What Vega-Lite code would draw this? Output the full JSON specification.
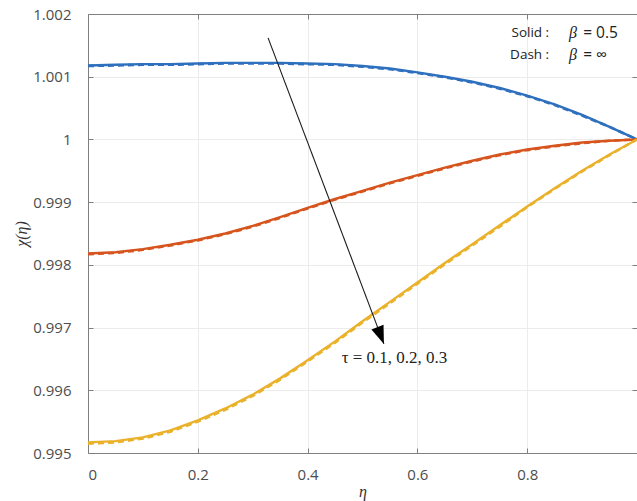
{
  "$schema": "https://vega.github.io/schema/vega-lite/v6.json",
  "width": 549,
  "height": 439,
  "autosize": "none",
  "padding": {"left": 88, "top": 14, "right": 0, "bottom": 48},
  "background": "white",
  "config": {
    "view": {"stroke": null}
  },
  "datasets": {
    "curves": [
      {"eta": 0, "chi": 1.00118, "tau": "0.1", "style": "solid"},
      {"eta": 0.05, "chi": 1.00119, "tau": "0.1", "style": "solid"},
      {"eta": 0.1, "chi": 1.0012, "tau": "0.1", "style": "solid"},
      {"eta": 0.15, "chi": 1.0012, "tau": "0.1", "style": "solid"},
      {"eta": 0.2, "chi": 1.00121, "tau": "0.1", "style": "solid"},
      {"eta": 0.25, "chi": 1.00122, "tau": "0.1", "style": "solid"},
      {"eta": 0.3, "chi": 1.00122, "tau": "0.1", "style": "solid"},
      {"eta": 0.35, "chi": 1.00122, "tau": "0.1", "style": "solid"},
      {"eta": 0.4, "chi": 1.00121, "tau": "0.1", "style": "solid"},
      {"eta": 0.45, "chi": 1.0012, "tau": "0.1", "style": "solid"},
      {"eta": 0.5, "chi": 1.00117, "tau": "0.1", "style": "solid"},
      {"eta": 0.55, "chi": 1.00113, "tau": "0.1", "style": "solid"},
      {"eta": 0.6, "chi": 1.00107, "tau": "0.1", "style": "solid"},
      {"eta": 0.65, "chi": 1.001, "tau": "0.1", "style": "solid"},
      {"eta": 0.7, "chi": 1.00092, "tau": "0.1", "style": "solid"},
      {"eta": 0.75, "chi": 1.00082, "tau": "0.1", "style": "solid"},
      {"eta": 0.8, "chi": 1.0007, "tau": "0.1", "style": "solid"},
      {"eta": 0.85, "chi": 1.00056, "tau": "0.1", "style": "solid"},
      {"eta": 0.9, "chi": 1.00039, "tau": "0.1", "style": "solid"},
      {"eta": 0.95, "chi": 1.0002, "tau": "0.1", "style": "solid"},
      {"eta": 1, "chi": 1.0, "tau": "0.1", "style": "solid"},

      {"eta": 0, "chi": 0.99818, "tau": "0.2", "style": "solid"},
      {"eta": 0.05, "chi": 0.9982, "tau": "0.2", "style": "solid"},
      {"eta": 0.1, "chi": 0.99825, "tau": "0.2", "style": "solid"},
      {"eta": 0.15, "chi": 0.99832, "tau": "0.2", "style": "solid"},
      {"eta": 0.2, "chi": 0.9984, "tau": "0.2", "style": "solid"},
      {"eta": 0.25, "chi": 0.9985, "tau": "0.2", "style": "solid"},
      {"eta": 0.3, "chi": 0.99862, "tau": "0.2", "style": "solid"},
      {"eta": 0.35, "chi": 0.99876, "tau": "0.2", "style": "solid"},
      {"eta": 0.4, "chi": 0.99891, "tau": "0.2", "style": "solid"},
      {"eta": 0.45, "chi": 0.99905, "tau": "0.2", "style": "solid"},
      {"eta": 0.5, "chi": 0.99918, "tau": "0.2", "style": "solid"},
      {"eta": 0.55, "chi": 0.99931, "tau": "0.2", "style": "solid"},
      {"eta": 0.6, "chi": 0.99943, "tau": "0.2", "style": "solid"},
      {"eta": 0.65, "chi": 0.99955, "tau": "0.2", "style": "solid"},
      {"eta": 0.7, "chi": 0.99966, "tau": "0.2", "style": "solid"},
      {"eta": 0.75, "chi": 0.99976, "tau": "0.2", "style": "solid"},
      {"eta": 0.8, "chi": 0.99984, "tau": "0.2", "style": "solid"},
      {"eta": 0.85, "chi": 0.9999, "tau": "0.2", "style": "solid"},
      {"eta": 0.9, "chi": 0.99995, "tau": "0.2", "style": "solid"},
      {"eta": 0.95, "chi": 0.99998, "tau": "0.2", "style": "solid"},
      {"eta": 1, "chi": 1.0, "tau": "0.2", "style": "solid"},

      {"eta": 0, "chi": 0.99517, "tau": "0.3", "style": "solid"},
      {"eta": 0.05, "chi": 0.99519, "tau": "0.3", "style": "solid"},
      {"eta": 0.1, "chi": 0.99525, "tau": "0.3", "style": "solid"},
      {"eta": 0.15, "chi": 0.99536, "tau": "0.3", "style": "solid"},
      {"eta": 0.2, "chi": 0.99552, "tau": "0.3", "style": "solid"},
      {"eta": 0.25, "chi": 0.99571, "tau": "0.3", "style": "solid"},
      {"eta": 0.3, "chi": 0.99593, "tau": "0.3", "style": "solid"},
      {"eta": 0.35, "chi": 0.99619, "tau": "0.3", "style": "solid"},
      {"eta": 0.4, "chi": 0.99648, "tau": "0.3", "style": "solid"},
      {"eta": 0.45, "chi": 0.99678, "tau": "0.3", "style": "solid"},
      {"eta": 0.5, "chi": 0.9971, "tau": "0.3", "style": "solid"},
      {"eta": 0.55, "chi": 0.99741, "tau": "0.3", "style": "solid"},
      {"eta": 0.6, "chi": 0.99772, "tau": "0.3", "style": "solid"},
      {"eta": 0.65, "chi": 0.99803, "tau": "0.3", "style": "solid"},
      {"eta": 0.7, "chi": 0.99833, "tau": "0.3", "style": "solid"},
      {"eta": 0.75, "chi": 0.99863, "tau": "0.3", "style": "solid"},
      {"eta": 0.8, "chi": 0.99893, "tau": "0.3", "style": "solid"},
      {"eta": 0.85, "chi": 0.99922, "tau": "0.3", "style": "solid"},
      {"eta": 0.9, "chi": 0.9995, "tau": "0.3", "style": "solid"},
      {"eta": 0.95, "chi": 0.99976, "tau": "0.3", "style": "solid"},
      {"eta": 1, "chi": 1.0, "tau": "0.3", "style": "solid"},

      {"eta": 0, "chi": 1.00117, "tau": "0.1", "style": "dash"},
      {"eta": 0.05, "chi": 1.00118, "tau": "0.1", "style": "dash"},
      {"eta": 0.1, "chi": 1.00119, "tau": "0.1", "style": "dash"},
      {"eta": 0.15, "chi": 1.00119, "tau": "0.1", "style": "dash"},
      {"eta": 0.2, "chi": 1.0012, "tau": "0.1", "style": "dash"},
      {"eta": 0.25, "chi": 1.00121, "tau": "0.1", "style": "dash"},
      {"eta": 0.3, "chi": 1.00121, "tau": "0.1", "style": "dash"},
      {"eta": 0.35, "chi": 1.00121, "tau": "0.1", "style": "dash"},
      {"eta": 0.4, "chi": 1.0012, "tau": "0.1", "style": "dash"},
      {"eta": 0.45, "chi": 1.00119, "tau": "0.1", "style": "dash"},
      {"eta": 0.5, "chi": 1.00116, "tau": "0.1", "style": "dash"},
      {"eta": 0.55, "chi": 1.00112, "tau": "0.1", "style": "dash"},
      {"eta": 0.6, "chi": 1.00106, "tau": "0.1", "style": "dash"},
      {"eta": 0.65, "chi": 1.00099, "tau": "0.1", "style": "dash"},
      {"eta": 0.7, "chi": 1.00091, "tau": "0.1", "style": "dash"},
      {"eta": 0.75, "chi": 1.00081, "tau": "0.1", "style": "dash"},
      {"eta": 0.8, "chi": 1.00069, "tau": "0.1", "style": "dash"},
      {"eta": 0.85, "chi": 1.00055, "tau": "0.1", "style": "dash"},
      {"eta": 0.9, "chi": 1.00038, "tau": "0.1", "style": "dash"},
      {"eta": 0.95, "chi": 1.0002, "tau": "0.1", "style": "dash"},
      {"eta": 1, "chi": 1.0, "tau": "0.1", "style": "dash"},

      {"eta": 0, "chi": 0.99817, "tau": "0.2", "style": "dash"},
      {"eta": 0.05, "chi": 0.99819, "tau": "0.2", "style": "dash"},
      {"eta": 0.1, "chi": 0.99824, "tau": "0.2", "style": "dash"},
      {"eta": 0.15, "chi": 0.99831, "tau": "0.2", "style": "dash"},
      {"eta": 0.2, "chi": 0.99839, "tau": "0.2", "style": "dash"},
      {"eta": 0.25, "chi": 0.99849, "tau": "0.2", "style": "dash"},
      {"eta": 0.3, "chi": 0.99861, "tau": "0.2", "style": "dash"},
      {"eta": 0.35, "chi": 0.99875, "tau": "0.2", "style": "dash"},
      {"eta": 0.4, "chi": 0.9989, "tau": "0.2", "style": "dash"},
      {"eta": 0.45, "chi": 0.99904, "tau": "0.2", "style": "dash"},
      {"eta": 0.5, "chi": 0.99917, "tau": "0.2", "style": "dash"},
      {"eta": 0.55, "chi": 0.9993, "tau": "0.2", "style": "dash"},
      {"eta": 0.6, "chi": 0.99942, "tau": "0.2", "style": "dash"},
      {"eta": 0.65, "chi": 0.99954, "tau": "0.2", "style": "dash"},
      {"eta": 0.7, "chi": 0.99965, "tau": "0.2", "style": "dash"},
      {"eta": 0.75, "chi": 0.99975, "tau": "0.2", "style": "dash"},
      {"eta": 0.8, "chi": 0.99983, "tau": "0.2", "style": "dash"},
      {"eta": 0.85, "chi": 0.99989, "tau": "0.2", "style": "dash"},
      {"eta": 0.9, "chi": 0.99994, "tau": "0.2", "style": "dash"},
      {"eta": 0.95, "chi": 0.99998, "tau": "0.2", "style": "dash"},
      {"eta": 1, "chi": 1.0, "tau": "0.2", "style": "dash"},

      {"eta": 0, "chi": 0.99515, "tau": "0.3", "style": "dash"},
      {"eta": 0.05, "chi": 0.99517, "tau": "0.3", "style": "dash"},
      {"eta": 0.1, "chi": 0.99523, "tau": "0.3", "style": "dash"},
      {"eta": 0.15, "chi": 0.99534, "tau": "0.3", "style": "dash"},
      {"eta": 0.2, "chi": 0.9955, "tau": "0.3", "style": "dash"},
      {"eta": 0.25, "chi": 0.99569, "tau": "0.3", "style": "dash"},
      {"eta": 0.3, "chi": 0.99591, "tau": "0.3", "style": "dash"},
      {"eta": 0.35, "chi": 0.99617, "tau": "0.3", "style": "dash"},
      {"eta": 0.4, "chi": 0.99646, "tau": "0.3", "style": "dash"},
      {"eta": 0.45, "chi": 0.99676, "tau": "0.3", "style": "dash"},
      {"eta": 0.5, "chi": 0.99708, "tau": "0.3", "style": "dash"},
      {"eta": 0.55, "chi": 0.99739, "tau": "0.3", "style": "dash"},
      {"eta": 0.6, "chi": 0.9977, "tau": "0.3", "style": "dash"},
      {"eta": 0.65, "chi": 0.99801, "tau": "0.3", "style": "dash"},
      {"eta": 0.7, "chi": 0.99831, "tau": "0.3", "style": "dash"},
      {"eta": 0.75, "chi": 0.99861, "tau": "0.3", "style": "dash"},
      {"eta": 0.8, "chi": 0.99892, "tau": "0.3", "style": "dash"},
      {"eta": 0.85, "chi": 0.99921, "tau": "0.3", "style": "dash"},
      {"eta": 0.9, "chi": 0.99949, "tau": "0.3", "style": "dash"},
      {"eta": 0.95, "chi": 0.99975, "tau": "0.3", "style": "dash"},
      {"eta": 1, "chi": 1.0, "tau": "0.3", "style": "dash"}
    ],
    "arrow": [
      {"x1": 0.328, "y1": 1.00162, "x2": 0.539, "y2": 0.99674}
    ],
    "labels": [
      {"x": 0.462, "y": 0.99651, "text": "τ  =  0.1, 0.2, 0.3", "kind": "tau"},
      {"x": 0.84, "y": 1.0017, "text": "Solid :", "kind": "legend"},
      {"x": 0.84, "y": 1.00135, "text": "Dash :", "kind": "legend"},
      {"x": 0.876, "y": 1.0017, "text": "β", "kind": "beta"},
      {"x": 0.876, "y": 1.00135, "text": "β", "kind": "beta"},
      {"x": 0.902, "y": 1.0017, "text": "=  0.5", "kind": "value"},
      {"x": 0.902, "y": 1.00135, "text": "=  ∞", "kind": "value"}
    ]
  },
  "resolve": {"axis": {"x": "independent", "y": "independent"}},
  "layer": [
    {
      "data": {"name": "curves"},
      "transform": [{"filter": "datum.style === 'solid'"}],
      "mark": {"type": "line", "strokeWidth": 2.4},
      "encoding": {
        "x": {
          "field": "eta", "type": "quantitative",
          "scale": {"domain": [0, 1], "nice": false, "zero": false},
          "axis": {"orient": "bottom", "title": "η", "values": [0, 0.2, 0.4, 0.6, 0.8], "format": "~g",
            "tickSize": -5, "labelPadding": 19, "grid": true, "titlePadding": 1,
            "labelFont": "Open Sans", "labelFontSize": 15, "labelColor": "#4d4d4d",
            "domainColor": "#7f7f7f", "tickColor": "#7f7f7f", "gridColor": "#ececec",
            "titleFont": "Liberation Serif", "titleFontSize": 16, "titleFontWeight": "normal", "titleFontStyle": "italic", "titleColor": "#333"}
        },
        "y": {
          "field": "chi", "type": "quantitative",
          "scale": {"domain": [0.995, 1.002], "nice": false, "zero": false},
          "axis": {"orient": "left", "title": "χ(η)", "values": [0.995, 0.996, 0.997, 0.998, 0.999, 1, 1.001, 1.002], "format": "~g",
            "tickSize": -5, "labelPadding": 22, "grid": true, "titlePadding": 3,
            "labelFont": "Open Sans", "labelFontSize": 15, "labelColor": "#4d4d4d",
            "domainColor": "#7f7f7f", "tickColor": "#7f7f7f", "gridColor": "#ececec",
            "titleFont": "Liberation Serif", "titleFontSize": 16, "titleFontWeight": "normal", "titleFontStyle": "italic", "titleColor": "#333"}
        },
        "color": {"field": "tau", "type": "nominal", "scale": {"domain": ["0.1", "0.2", "0.3"], "range": ["#2e70be", "#d6541d", "#eab12a"]}, "legend": null},
        "detail": {"field": "tau"}
      }
    },
    {
      "data": {"name": "curves"},
      "transform": [{"filter": "datum.style === 'dash'"}],
      "mark": {"type": "line", "strokeWidth": 2.6, "strokeDash": [6, 4]},
      "encoding": {
        "x": {"field": "eta", "type": "quantitative", "axis": null},
        "y": {"field": "chi", "type": "quantitative", "axis": null},
        "color": {"field": "tau", "type": "nominal", "legend": null},
        "detail": {"field": "tau"}
      }
    },
    {
      "data": {"name": "arrow"},
      "mark": {"type": "rule", "color": "#1a1a1a", "strokeWidth": 1.1},
      "encoding": {
        "x": {"field": "x1", "type": "quantitative", "axis": {"orient": "top", "title": null, "labels": false, "grid": false, "tickSize": -5, "domainColor": "#7f7f7f", "tickColor": "#7f7f7f", "values": [0, 0.2, 0.4, 0.6, 0.8]}},
        "y": {"field": "y1", "type": "quantitative", "axis": {"orient": "right", "title": null, "labels": false, "grid": false, "tickSize": -5, "domainColor": "#7f7f7f", "tickColor": "#7f7f7f", "values": [0.995, 0.996, 0.997, 0.998, 0.999, 1, 1.001, 1.002]}},
        "x2": {"field": "x2"},
        "y2": {"field": "y2"}
      }
    },
    {
      "data": {"name": "arrow"},
      "mark": {"type": "point", "shape": "M0,0L-1.3,-3.6L1.3,-3.6Z", "filled": true, "color": "#000", "opacity": 1, "size": 100, "angle": 339},
      "encoding": {
        "x": {"field": "x2", "type": "quantitative", "axis": null},
        "y": {"field": "y2", "type": "quantitative", "axis": null}
      }
    },
    {
      "data": {"name": "labels"},
      "transform": [{"filter": "datum.kind === 'tau'"}],
      "mark": {"type": "text", "font": "Liberation Serif", "fontSize": 17, "align": "left", "baseline": "middle", "color": "#222"},
      "encoding": {
        "x": {"field": "x", "type": "quantitative", "axis": null},
        "y": {"field": "y", "type": "quantitative", "axis": null},
        "text": {"field": "text"}
      }
    },
    {
      "data": {"name": "labels"},
      "transform": [{"filter": "datum.kind === 'legend'"}],
      "mark": {"type": "text", "font": "Open Sans", "fontSize": 13.5, "align": "right", "baseline": "middle", "color": "#222"},
      "encoding": {
        "x": {"field": "x", "type": "quantitative", "axis": null},
        "y": {"field": "y", "type": "quantitative", "axis": null},
        "text": {"field": "text"}
      }
    },
    {
      "data": {"name": "labels"},
      "transform": [{"filter": "datum.kind === 'value'"}],
      "mark": {"type": "text", "font": "Open Sans", "fontSize": 15.5, "align": "left", "baseline": "middle", "color": "#222"},
      "encoding": {
        "x": {"field": "x", "type": "quantitative", "axis": null},
        "y": {"field": "y", "type": "quantitative", "axis": null},
        "text": {"field": "text"}
      }
    },
    {
      "data": {"name": "labels"},
      "transform": [{"filter": "datum.kind === 'beta'"}],
      "mark": {"type": "text", "font": "Liberation Serif", "fontStyle": "italic", "fontSize": 16, "align": "left", "baseline": "middle", "color": "#222"},
      "encoding": {
        "x": {"field": "x", "type": "quantitative", "axis": null},
        "y": {"field": "y", "type": "quantitative", "axis": null},
        "text": {"field": "text"}
      }
    }
  ]
}
